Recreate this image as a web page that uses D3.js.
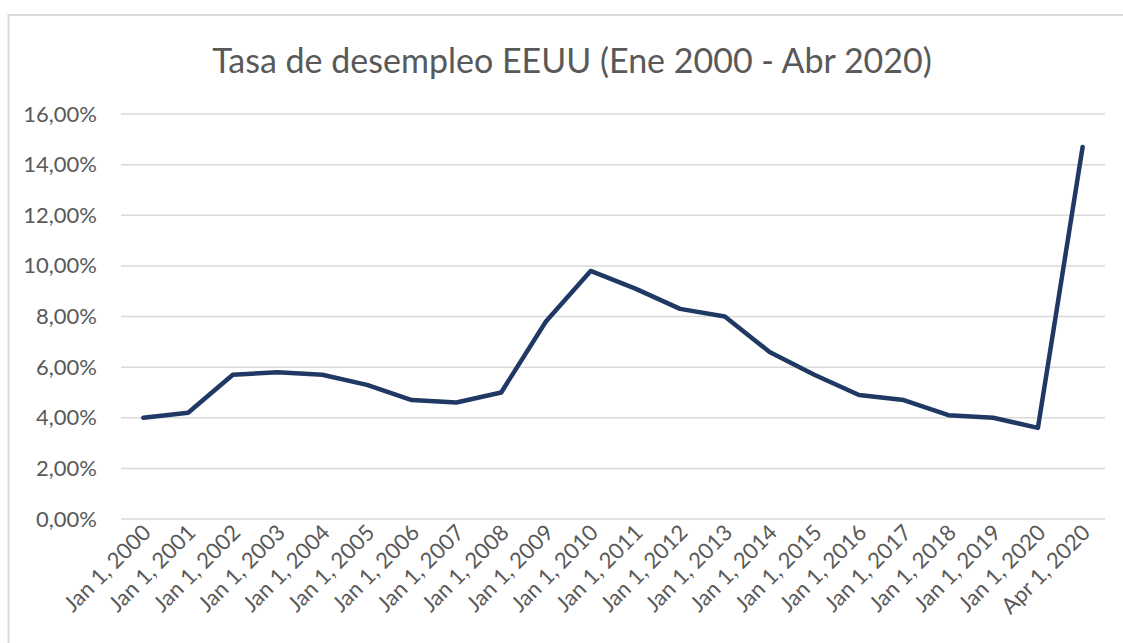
<!DOCTYPE html>
<html>
<head>
<meta charset="utf-8">
<script src="https://cdn.jsdelivr.net/npm/d3@7"></script>
<style>
  html, body { margin: 0; padding: 0; background: #fff; }
  svg { display: block; font-family: Lato, "Open Sans", sans-serif; }
</style>
</head>
<body>
<svg id="chart" width="1123" height="643"></svg>
<script>
"use strict"

// Chart data
const title = "Tasa de desempleo EEUU (Ene 2000 - Abr 2020)"
const categories = [
	"Jan 1, 2000", "Jan 1, 2001", "Jan 1, 2002", "Jan 1, 2003", "Jan 1, 2004",
	"Jan 1, 2005", "Jan 1, 2006", "Jan 1, 2007", "Jan 1, 2008", "Jan 1, 2009",
	"Jan 1, 2010", "Jan 1, 2011", "Jan 1, 2012", "Jan 1, 2013", "Jan 1, 2014",
	"Jan 1, 2015", "Jan 1, 2016", "Jan 1, 2017", "Jan 1, 2018", "Jan 1, 2019",
	"Jan 1, 2020", "Apr 1, 2020"
]
const rates = [
	4.0, 4.2, 5.7, 5.8, 5.7,
	5.3, 4.7, 4.6, 5.0, 7.8,
	9.8, 9.1, 8.3, 8.0, 6.6,
	5.7, 4.9, 4.7, 4.1, 4.0,
	3.6, 14.7
]
const yTicks = [0, 2, 4, 6, 8, 10, 12, 14, 16]

const svg = d3.select("#chart")
const margins = {left: 121, right: 18, top: 114, bottom: 124}
const width = 1123 - margins.left - margins.right
const height = 643 - margins.top - margins.bottom

// outer frame (only top and left edges are visible)
svg.append("path")
	.attr("d", "M8.5,643 V15 H1123")
	.attr("fill", "none")
	.attr("stroke", "#d9d9d9")
	.attr("stroke-width", 2)

// title
svg.append("text")
	.attr("x", 572)
	.attr("y", 73)
	.attr("text-anchor", "middle")
	.style("font-size", "34px")
	.style("fill", "#595959")
	.text(title)

const xScale = d3.scaleBand().domain(categories).range([0, width])
const yScale = d3.scaleLinear().domain([0, 16]).range([height, 0])

const g = svg.append("g")
	.attr("transform", "translate(" + margins.left + "," + margins.top + ")")

// horizontal gridlines
g.selectAll(".grid")
	.data(yTicks)
	.enter().append("line")
	.attr("class", "grid")
	.attr("x1", 0)
	.attr("x2", width)
	.attr("y1", d => yScale(d))
	.attr("y2", d => yScale(d))
	.attr("stroke", "#d9d9d9")
	.attr("stroke-width", 1.5)

// y axis labels
const fmt = d => d.toFixed(2).replace(".", ",") + "%"
const yAxis = d3.axisLeft(yScale).tickValues(yTicks).tickFormat(fmt).tickSize(0).tickPadding(24)
g.append("g")
	.attr("class", "y axis")
	.call(yAxis)
	.call(a => a.select(".domain").remove())
	.selectAll("text")
	.style("font-family", "Lato, 'Open Sans', sans-serif")
	.style("font-size", "22px")
	.style("fill", "#595959")

// x axis labels
const xAxis = d3.axisBottom(xScale).tickSize(0).tickPadding(0)
g.append("g")
	.attr("class", "x axis")
	.attr("transform", "translate(0," + height + ")")
	.call(xAxis)
	.call(a => a.select(".domain").remove())
	.selectAll("text")
	.style("font-family", "Lato, 'Open Sans', sans-serif")
	.style("font-size", "22px")
	.style("fill", "#595959")
	.attr("text-anchor", "end")
	.attr("dy", "0")
	.attr("transform", "translate(9,15) rotate(-45)")

// line
const line = d3.line()
	.x((d, i) => xScale(categories[i]) + xScale.bandwidth() / 2)
	.y(d => yScale(d))

g.append("path")
	.datum(rates)
	.attr("d", line)
	.attr("fill", "none")
	.attr("stroke", "#203864")
	.attr("stroke-width", 4.5)
	.attr("stroke-linejoin", "round")
	.attr("stroke-linecap", "round")
</script>
</body>
</html>
